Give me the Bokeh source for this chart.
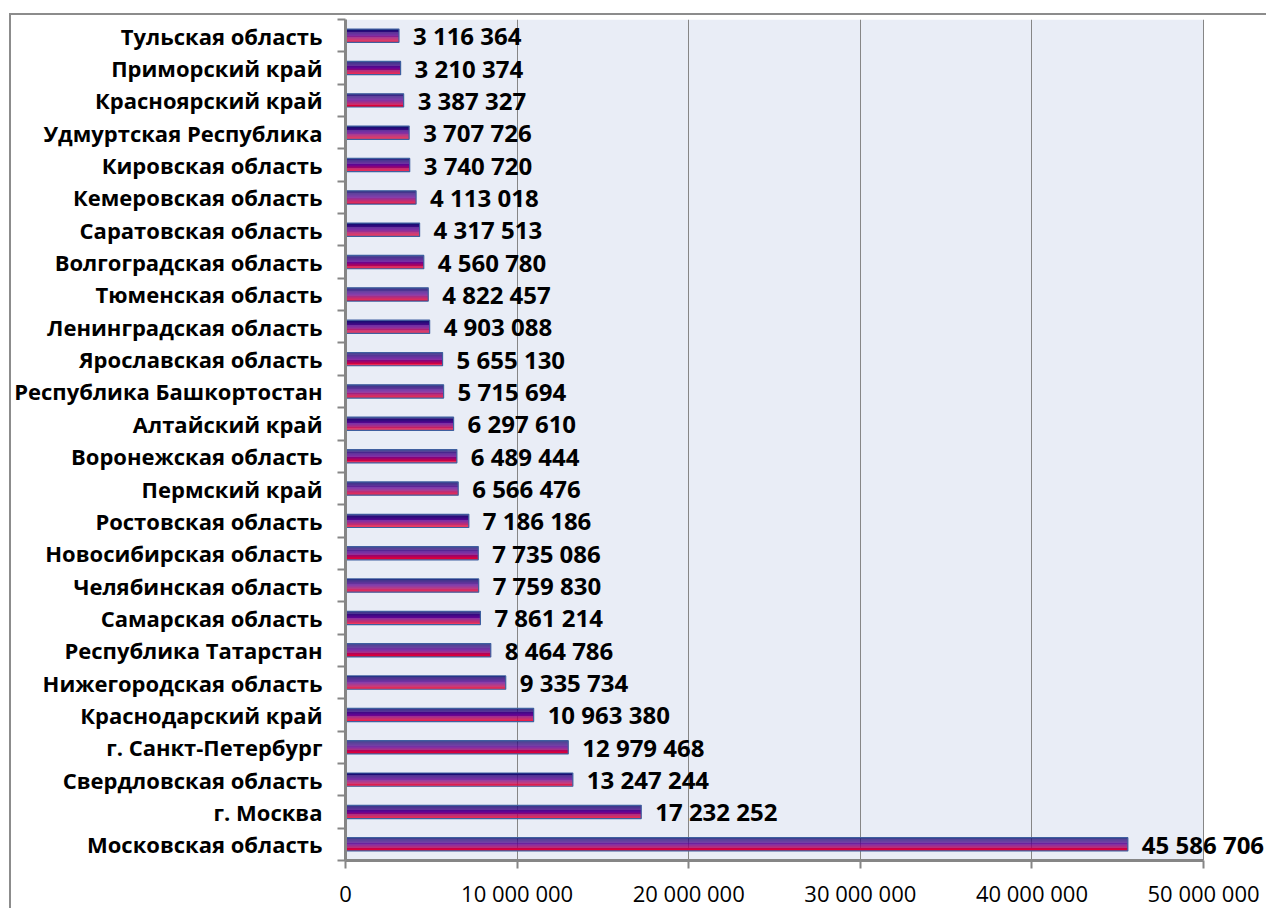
from bokeh.plotting import figure
from bokeh.models import ColumnDataSource, Range1d, FixedTicker, LabelSet, BoxAnnotation
from bokeh.core.properties import value
from bokeh.transform import dodge
from bokeh.embed import file_html
from bokeh.resources import INLINE

regions = ["Тульская область", "Приморский край", "Красноярский край", "Удмуртская Республика",
           "Кировская область", "Кемеровская область", "Саратовская область", "Волгоградская область",
           "Тюменская область", "Ленинградская область", "Ярославская область", "Республика Башкортостан",
           "Алтайский край", "Воронежская область", "Пермский край", "Ростовская область",
           "Новосибирская область", "Челябинская область", "Самарская область", "Республика Татарстан",
           "Нижегородская область", "Краснодарский край", "г. Санкт-Петербург", "Свердловская область",
           "г. Москва", "Московская область"]
values = [3116364, 3210374, 3387327, 3707726, 3740720, 4113018, 4317513, 4560780, 4822457, 4903088,
          5655130, 5715694, 6297610, 6489444, 6566476, 7186186, 7735086, 7759830, 7861214, 8464786,
          9335734, 10963380, 12979468, 13247244, 17232252, 45586706]
x_ticks = [0, 10000000, 20000000, 30000000, 40000000, 50000000]
x_tick_labels = ["0", "10 000 000", "20 000 000", "30 000 000", "40 000 000", "50 000 000"]
x_axis_max = 50000000

n = len(regions)
pos = list(range(n))
src = ColumnDataSource(dict(
    y=pos, v=values, lbl=[f"{v:,}".replace(",", " ") for v in values]))

# frame continues past the axis end so that value labels are not clipped
x_view_end = x_axis_max * 924 / 859

p = figure(width=1257, height=895, output_backend="svg", toolbar_location=None,
           x_range=Range1d(0, x_view_end), y_range=Range1d(n - 0.5, -0.5),
           min_border_top=4, min_border_right=0, min_border_bottom=47,
           background_fill_color="white", border_fill_color="white",
           styles={"border-top": "2px solid #8c8c8c", "border-left": "2px solid #8c8c8c",
                   "margin-top": "13px", "margin-left": "9px"})
p.outline_line_color = None

p.add_layout(BoxAnnotation(left=0, right=x_axis_max, fill_color="#e9edf6", fill_alpha=1,
                           line_color=None, level="image"))

# gradient bars as thin strips
bar_h = 0.41
nstrips = 14
stops = [(0.0, (15, 15, 110)), (0.5, (100, 5, 150)), (1.0, (245, 0, 40))]
def col(t):
    for (t0, c0), (t1, c1) in zip(stops[:-1], stops[1:]):
        if t <= t1:
            f = (t - t0) / (t1 - t0)
            return "#%02x%02x%02x" % tuple(int(a + (b - a) * f) for a, b in zip(c0, c1))
    return "#%02x%02x%02x" % stops[-1][1]
sh = bar_h / nstrips
for k in range(nstrips):
    off = -bar_h / 2 + sh * (k + 0.5)
    p.hbar(y=dodge("y", off, range=p.y_range), right="v", left=0, height=sh * 1.02,
           source=src, fill_color=col(k / (nstrips - 1)), line_color=None)
p.hbar(y="y", right="v", left=0, height=bar_h, source=src, fill_color=None,
       line_color="#3f5f9f", line_width=1.2)

labels = LabelSet(x="v", y="y", text="lbl", source=src, x_offset=14, text_baseline="middle",
                  text_font=value("Open Sans"), text_font_style="bold", text_font_size="24px",
                  text_color="black")
p.add_layout(labels)

# axes
p.ygrid.grid_line_color = None
p.xgrid.grid_line_color = "#868686"
p.xgrid.grid_line_width = 1
p.xgrid.ticker = FixedTicker(ticks=x_ticks)

xa = p.xaxis[0]
xa.ticker = FixedTicker(ticks=x_ticks)
xa.bounds = (0, x_axis_max)
xa.major_label_overrides = dict(zip(x_ticks, x_tick_labels))
xa.major_label_text_font = "Open Sans"
xa.major_label_text_font_size = "22px"
xa.major_label_text_color = "black"
xa.axis_line_color = "#868686"
xa.axis_line_width = 3
xa.major_tick_line_color = "#868686"
xa.major_tick_line_width = 2
xa.major_tick_out = 8
xa.major_tick_in = 0
xa.minor_tick_line_color = None
xa.major_label_standoff = 9

ya = p.yaxis[0]
ya.ticker = FixedTicker(ticks=pos, minor_ticks=[i - 0.5 for i in range(n + 1)])
ya.major_label_overrides = dict(zip(pos, regions))
ya.major_label_text_font = "Open Sans"
ya.major_label_text_font_style = "bold"
ya.major_label_text_font_size = "22px"
ya.major_label_text_color = "black"
ya.axis_line_color = "#868686"
ya.axis_line_width = 3
ya.major_tick_line_color = None
ya.minor_tick_line_color = "#868686"
ya.minor_tick_line_width = 2
ya.minor_tick_out = 8
ya.minor_tick_in = 0
ya.major_label_standoff = 15

open("out.html", "w").write(file_html(p, INLINE))
